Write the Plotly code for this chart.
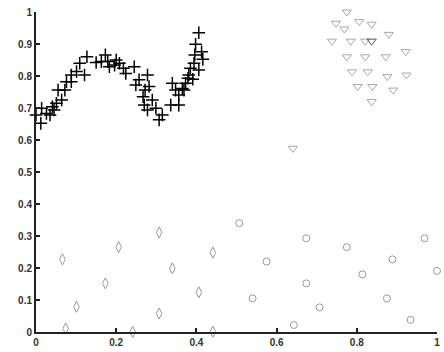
import plotly.graph_objects as go

# Cross series (black "+")
cross_x = [0.000, 0.012, 0.014, 0.026, 0.035, 0.041, 0.045, 0.051, 0.064, 0.055,
           0.072, 0.076, 0.088, 0.088, 0.109, 0.121, 0.127, 0.150, 0.173, 0.179,
           0.183, 0.196, 0.208, 0.218, 0.224, 0.245, 0.249, 0.257, 0.278, 0.272,
           0.282, 0.267, 0.270, 0.278, 0.290, 0.299, 0.307, 0.315, 0.336, 0.356,
           0.340, 0.348, 0.356, 0.365, 0.373, 0.379, 0.391, 0.385, 0.406, 0.398,
           0.406, 0.413, 0.396, 0.416, 0.394, 0.381, 0.369, 0.163, 0.200, 0.101]
cross_y = [0.678, 0.652, 0.699, 0.683, 0.678, 0.704, 0.694, 0.715, 0.725, 0.756,
           0.756, 0.782, 0.782, 0.803, 0.840, 0.803, 0.860, 0.842, 0.866, 0.845,
           0.829, 0.834, 0.840, 0.824, 0.808, 0.829, 0.772, 0.788, 0.803, 0.756,
           0.767, 0.735, 0.709, 0.694, 0.725, 0.699, 0.663, 0.678, 0.709, 0.709,
           0.777, 0.756, 0.741, 0.761, 0.777, 0.793, 0.790, 0.824, 0.819, 0.899,
           0.935, 0.876, 0.866, 0.852, 0.840, 0.803, 0.756, 0.845, 0.850, 0.814]

# Diamond series (grey)
diam_x = [0.066, 0.074, 0.101, 0.173, 0.206, 0.241, 0.307, 0.307, 0.340, 0.406, 0.441, 0.441]
diam_y = [0.227, 0.011, 0.079, 0.152, 0.265, 0.000, 0.311, 0.058, 0.199, 0.124, 0.248, 0.001]

# Circle series (grey)
circ_x = [0.507, 0.674, 0.575, 0.775, 0.814, 0.889, 0.969, 1.000, 0.540, 0.674, 0.707, 0.643, 0.875, 0.934]
circ_y = [0.340, 0.293, 0.220, 0.265, 0.180, 0.227, 0.293, 0.191, 0.105, 0.152, 0.077, 0.022, 0.105, 0.038]

# Triangle series (light grey, down-pointing)
tri_x = [0.775, 0.748, 0.769, 0.806, 0.837, 0.880, 0.738, 0.785, 0.821, 0.775,
         0.821, 0.872, 0.922, 0.788, 0.827, 0.876, 0.924, 0.802, 0.839, 0.891,
         0.837, 0.641]
tri_y = [1.000, 0.965, 0.947, 0.970, 0.962, 0.930, 0.909, 0.909, 0.909, 0.860,
         0.860, 0.860, 0.876, 0.813, 0.813, 0.798, 0.803, 0.767, 0.767, 0.756,
         0.720, 0.574]
tri_dark_x = [0.837]
tri_dark_y = [0.909]

x_ticks = [0, 0.2, 0.4, 0.6, 0.8, 1]
x_labels = ["0", "0.2", "0.4", "0.6", "0.8", "1"]
y_ticks = [0, 0.1, 0.2, 0.3, 0.4, 0.5, 0.6, 0.7, 0.8, 0.9, 1]
y_labels = ["0", "0.1", "0.2", "0.3", "0.4", "0.5", "0.6", "0.7", "0.8", "0.9", "1"]

fig = go.Figure()
fig.add_trace(go.Scatter(x=diam_x, y=diam_y, mode="markers",
                         marker=dict(symbol="diamond-tall-open", size=8, color="#9a9a9a",
                                     line=dict(width=1, color="#9a9a9a"))))
fig.add_trace(go.Scatter(x=circ_x, y=circ_y, mode="markers",
                         marker=dict(symbol="circle-open", size=7, color="#9a9a9a",
                                     line=dict(width=1, color="#9a9a9a"))))
fig.add_trace(go.Scatter(x=tri_x, y=tri_y, mode="markers",
                         marker=dict(symbol="triangle-down-open", size=8, color="#a8a8a8",
                                     line=dict(width=1, color="#a8a8a8"))))
fig.add_trace(go.Scatter(x=tri_dark_x, y=tri_dark_y, mode="markers",
                         marker=dict(symbol="triangle-down-open", size=8, color="#555555",
                                     line=dict(width=1, color="#555555"))))
fig.add_trace(go.Scatter(x=cross_x, y=cross_y, mode="markers",
                         marker=dict(symbol="cross-thin-open", size=9, color="black",
                                     line=dict(width=1.5, color="black"))))

axis_common = dict(showgrid=False, zeroline=False, showline=True, linecolor="#222222",
                   linewidth=2, ticks="inside", ticklen=4, tickwidth=1.5, tickcolor="#222222",
                   tickfont=dict(family="Liberation Sans", size=10, color="#333333", weight="bold"))

fig.update_layout(
    width=444, height=352,
    margin=dict(l=36, r=4, t=12, b=20),
    paper_bgcolor="white", plot_bgcolor="white",
    showlegend=False,
    xaxis=dict(range=[0, 1], tickvals=x_ticks, ticktext=x_labels, **axis_common),
    yaxis=dict(range=[0, 1], tickvals=y_ticks, ticktext=y_labels, **axis_common),
)
fig.update_traces(cliponaxis=False)

fig.write_html("out.html", config={"displayModeBar": False},
               post_script="document.body.style.margin='0';document.body.style.overflow='hidden';")
